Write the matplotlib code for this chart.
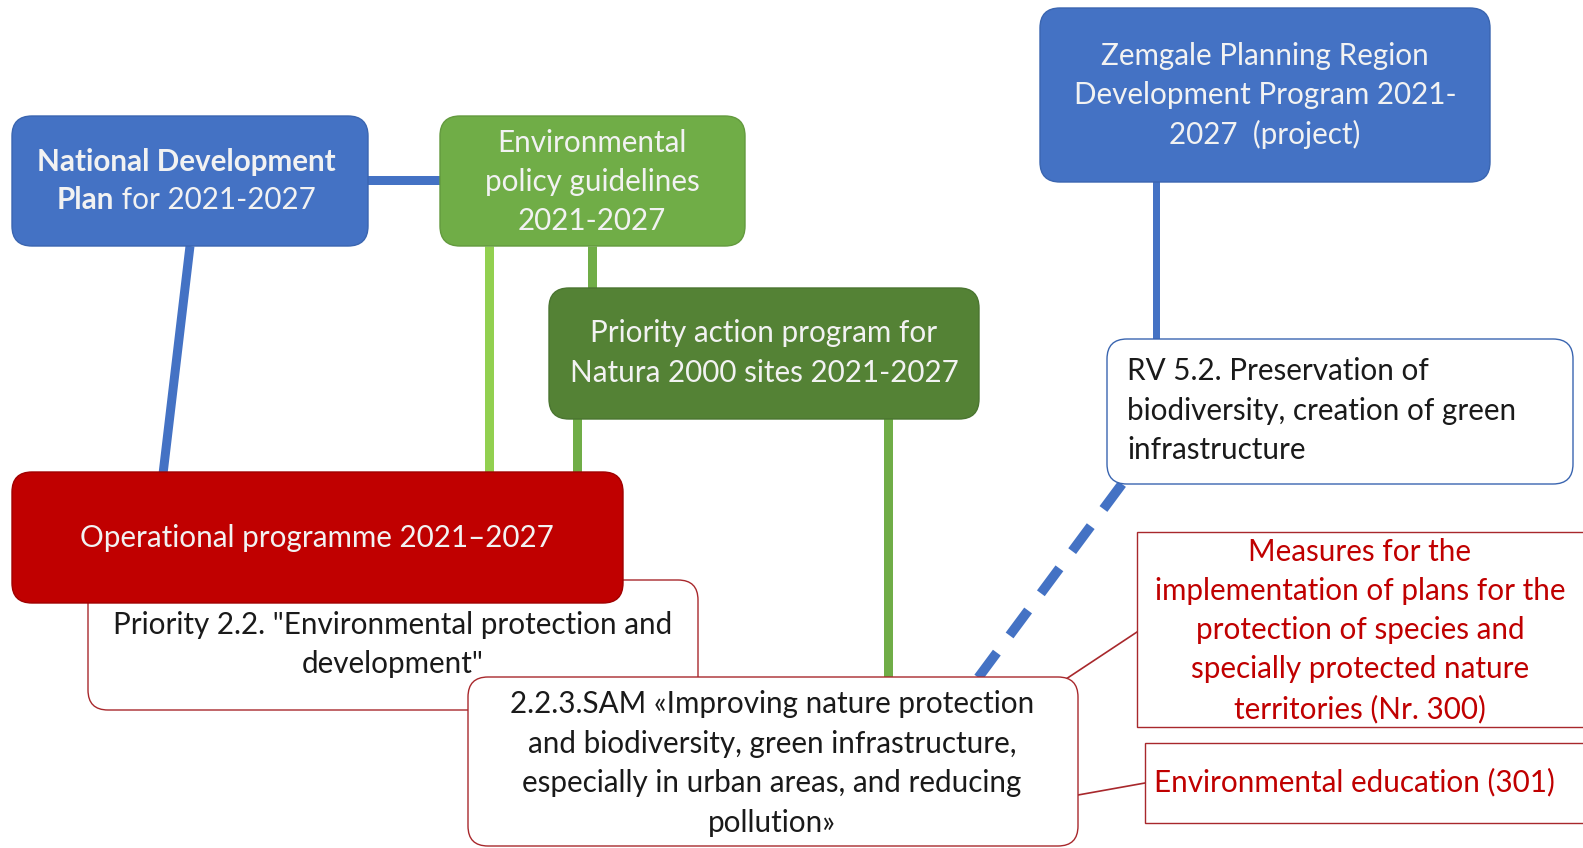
import matplotlib
matplotlib.use("Agg")
import matplotlib.pyplot as plt
from matplotlib.patches import FancyBboxPatch, Rectangle

FONT = ["Lato", "DejaVu Sans"]
W, H = 1583, 848

# ---- content ----
nat_line1 = "National Development"
nat_line2_bold = "Plan"
nat_line2_rest = " for 2021-2027"
env_policy = ["Environmental", "policy guidelines", "2021-2027"]
zemgale = ["Zemgale Planning Region", "Development Program 2021-", "2027  (project)"]
priority_action = ["Priority action program for", "Natura 2000 sites 2021-2027"]
rv52 = ["RV 5.2. Preservation of", "biodiversity, creation of green", "infrastructure"]
operational = ["Operational programme 2021\u20132027"]
priority22 = ["Priority 2.2. \"Environmental protection and", "development\""]
sam = ["2.2.3.SAM \u00abImproving nature protection", "and biodiversity, green infrastructure,",
       "especially in urban areas, and reducing", "pollution\u00bb"]
measures = ["Measures for the", "implementation of plans for the", "protection of species and",
            "specially protected nature", "territories (Nr. 300)"]
env_edu = ["Environmental education (301)"]

BLUE = "#4472c4"
GREEN = "#70ad47"
LGREEN = "#92d050"
DGREEN = "#548235"
RED = "#c00000"
DRED = "#a8282c"
TXT_LIGHT = "#f2f2f2"
TXT_DARK = "#1a1a1a"
FS = 21.3

fig = plt.figure(figsize=(W / 100, H / 100), dpi=100)
ax = fig.add_axes([0, 0, 1, 1])
ax.set_xlim(0, W)
ax.set_ylim(H, 0)
ax.axis("off")


def line(x0, y0, x1, y1, color, lw=7, ls="-", z=1):
    ax.plot([x0, x1], [y0, y1], color=color, lw=lw * 0.72, ls=ls, solid_capstyle="butt", zorder=z)


def rbox(x0, y0, x1, y1, fc, ec, lw=1.0, r=20, z=3):
    p = FancyBboxPatch((x0, y0), x1 - x0, y1 - y0,
                       boxstyle=f"round,pad=0,rounding_size={r}",
                       fc=fc, ec=ec, lw=lw, zorder=z)
    ax.add_patch(p)


def lines_text(xc, ys, texts, color, ha="center", z=5, weight="normal"):
    for y, t in zip(ys, texts):
        ax.text(xc, y, t, ha=ha, va="center", fontsize=FS, color=color,
                family=FONT, zorder=z, weight=weight)


# ---- connectors ----
line(365, 180, 442, 180, BLUE, lw=9)
line(190, 246, 163, 474, BLUE, lw=9)
line(489, 246, 489, 474, LGREEN, lw=9)
line(592, 246, 592, 290, GREEN, lw=9)
line(577, 418, 577, 474, GREEN, lw=9)
line(888, 418, 888, 678, GREEN, lw=9)
line(1156, 180, 1156, 340, BLUE, lw=7)
ax.plot([1122, 978], [484, 678], color=BLUE, lw=7, ls=(0, (3.2, 2.2)), zorder=1,
        solid_capstyle="butt", dash_capstyle="butt")
ax.plot([1063, 1137], [681, 632], color=DRED, lw=1.2, zorder=1)
ax.plot([1078, 1145], [795, 783], color=DRED, lw=1.2, zorder=1)

# ---- boxes ----
rbox(12, 116, 368, 246, BLUE, "#3a65b0", lw=1.0)
rbox(440, 116, 745, 246, GREEN, "#639a3e", lw=1.0)
rbox(1040, 8, 1490, 182, BLUE, "#3a65b0", lw=1.0)
rbox(549, 288, 979, 419, DGREEN, "#4a7530", lw=1.0)
rbox(1107, 339, 1573, 484, "white", "#3a65b0", lw=1.0)
rbox(88, 580, 698, 710, "white", DRED, lw=1.0, z=2)
rbox(12, 472, 623, 603, RED, "#a00000", lw=1.0, z=3)
rbox(468, 677, 1078, 846, "white", DRED, lw=1.0, z=4)
ax.add_patch(Rectangle((1137, 532), W - 1137 + 2, 195, fc="white", ec=DRED, lw=1.0, zorder=3))
ax.add_patch(Rectangle((1145, 743), W - 1145 + 2, 80, fc="white", ec=DRED, lw=1.0, zorder=3))

# ---- texts ----
ax.text(186, 162, nat_line1, ha="center", va="center", fontsize=FS, color=TXT_LIGHT,
        family=FONT, weight="bold", zorder=5)
fig.canvas.draw()
r = fig.canvas.get_renderer()
tb = ax.text(0, 200, nat_line2_bold, ha="left", va="center", fontsize=FS, color=TXT_LIGHT,
             family=FONT, weight="bold", zorder=5)
tr = ax.text(0, 200, nat_line2_rest, ha="left", va="center", fontsize=FS, color=TXT_LIGHT,
             family=FONT, zorder=5)
wb = tb.get_window_extent(r).width
wr = tr.get_window_extent(r).width
x_start = 186 - (wb + wr) / 2
tb.set_x(x_start)
tr.set_x(x_start + wb)

lines_text(592, [143, 182, 221], env_policy, TXT_LIGHT)
lines_text(1265, [56, 95, 134], zemgale, TXT_LIGHT)
lines_text(764, [333, 373], priority_action, TXT_LIGHT)
lines_text(1127, [371, 411, 450], rv52, TXT_DARK, ha="left")
lines_text(317, [538], operational, TXT_LIGHT)
lines_text(393, [625, 664], priority22, TXT_DARK)
lines_text(772, [704, 744, 783, 823], sam, TXT_DARK)
lines_text(1360, [552, 591, 630, 669, 709], measures, RED)
lines_text(1354, [782], env_edu, RED)

fig.savefig("out.png", dpi=100)
